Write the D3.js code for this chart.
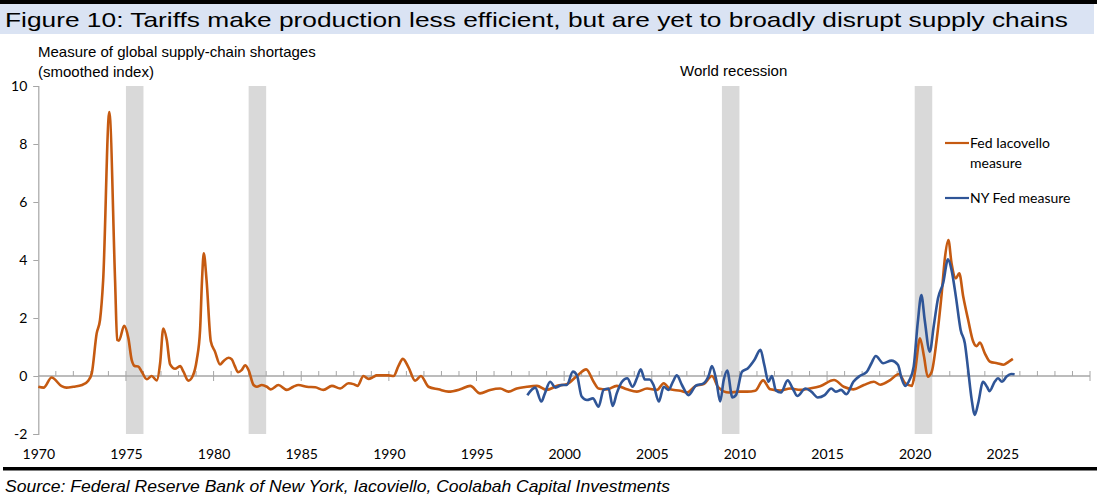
<!DOCTYPE html>
<html>
<head>
<meta charset="utf-8">
<script src="https://cdn.jsdelivr.net/npm/d3@7"></script>
<style>
  html, body { margin: 0; padding: 0; background: #fff; }
  svg { display: block; }
</style>
</head>
<body>
<svg id="chart" width="1097" height="497"></svg>
<script>
// ---------- DATA ----------
const titleText = "Figure 10: Tariffs make production less efficient, but are yet to broadly disrupt supply chains";
const sourceText = "Source: Federal Reserve Bank of New York, Iacoviello, Coolabah Capital Investments";
const yLabelLines = ["Measure of global supply-chain shortages", "(smoothed index)"];
const recessionLabel = "World recession";

const xTickYears = [1970, 1975, 1980, 1985, 1990, 1995, 2000, 2005, 2010, 2015, 2020, 2025];
const yTicks = [-2, 0, 2, 4, 6, 8, 10];

const recessionStart = [1975, 1982, 2009, 2020];
const recessionEnd   = [1976, 1983, 2010, 2021];

const seriesNames = ["Fed Iacovello measure", "NY Fed measure"];

const iacYears = [1970.0,1970.3,1970.76,1971.33,1971.6,1972.0,1972.5,1972.85,1973.05,1973.33,1973.52,1973.7,1974.05,1974.38,1974.5,1974.6,1974.9,1975.14,1975.33,1975.52,1975.7,1975.9,1976.19,1976.47,1976.76,1976.95,1977.13,1977.33,1977.52,1977.8,1978.09,1978.28,1978.56,1978.81,1979.04,1979.23,1979.34,1979.44,1979.6,1979.84,1980.08,1980.37,1980.56,1980.85,1981.04,1981.2,1981.4,1981.6,1981.8,1982.0,1982.28,1982.47,1982.75,1983.04,1983.26,1983.7,1984.18,1984.55,1984.84,1985.32,1985.8,1986.27,1986.75,1987.22,1987.7,1987.98,1988.21,1988.55,1988.84,1989.1,1989.3,1989.98,1990.27,1990.55,1990.8,1991.12,1991.5,1991.83,1992.26,1992.83,1993.4,1994.07,1994.64,1995.2,1995.78,1996.35,1996.83,1997.3,1997.88,1998.45,1999.0,1999.6,2000.15,2000.73,2001.26,2001.68,2001.96,2002.44,2003.0,2003.58,2004.15,2004.73,2005.3,2005.68,2006.05,2006.63,2007.0,2007.5,2007.96,2008.43,2008.8,2009.4,2009.97,2010.44,2010.9,2011.35,2011.76,2012.33,2012.9,2013.47,2014.0,2014.6,2015.4,2015.95,2016.5,2017.1,2017.67,2018.04,2018.6,2019.1,2019.46,2019.84,2020.03,2020.3,2020.53,2020.74,2020.97,2021.25,2021.54,2021.73,2021.92,2022.1,2022.35,2022.54,2022.77,2023.05,2023.34,2023.53,2023.72,2024.0,2024.3,2024.7,2025.06,2025.35,2025.6];
const iacValues = [-0.37,-0.4,-0.05,-0.35,-0.4,-0.37,-0.31,-0.16,0.09,1.47,1.93,3.3,9.1,3.3,1.24,1.22,1.73,1.3,0.55,0.34,0.33,0.15,-0.11,0.0,-0.15,0.44,1.64,1.24,0.4,0.25,0.34,0.15,-0.16,0.0,0.55,1.59,3.3,4.23,3.3,1.2,0.84,0.4,0.51,0.63,0.57,0.36,0.13,0.2,0.37,0.2,-0.31,-0.37,-0.31,-0.37,-0.46,-0.31,-0.48,-0.37,-0.31,-0.37,-0.39,-0.48,-0.34,-0.43,-0.25,-0.28,-0.34,0.0,-0.1,-0.04,0.02,0.02,0.0,0.35,0.59,0.3,-0.16,0.0,-0.37,-0.46,-0.54,-0.46,-0.34,-0.6,-0.48,-0.43,-0.54,-0.43,-0.37,-0.34,-0.48,-0.34,-0.28,0.0,0.23,-0.2,-0.43,-0.46,-0.34,-0.46,-0.54,-0.43,-0.48,-0.25,-0.46,-0.51,-0.57,-0.34,-0.28,0.0,-0.39,-0.57,-0.54,-0.54,-0.51,-0.15,-0.46,-0.5,-0.43,-0.48,-0.43,-0.35,-0.14,-0.37,-0.46,-0.31,-0.2,-0.3,-0.14,0.07,-0.25,-0.34,0.2,1.3,0.67,-0.02,0.15,1.24,2.85,4.11,4.69,3.89,3.37,3.54,2.73,1.93,1.18,1.03,1.15,0.78,0.49,0.44,0.39,0.49,0.59];

const nyYears = [1997.9,1998.35,1998.7,1998.9,1999.2,1999.5,1999.87,2000.15,2000.5,2000.73,2001.0,2001.3,2001.64,2001.96,2002.25,2002.53,2002.77,2003.0,2003.3,2003.6,2003.9,2004.15,2004.37,2004.6,2004.87,2005.1,2005.4,2005.68,2005.96,2006.2,2006.43,2006.72,2007.1,2007.5,2007.96,2008.25,2008.43,2008.68,2008.9,2009.1,2009.3,2009.6,2009.8,2010.15,2010.47,2010.85,2011.2,2011.42,2011.66,2011.85,2012.08,2012.37,2012.75,2013.04,2013.3,2013.77,2014.1,2014.47,2014.86,2015.24,2015.5,2015.8,2016.1,2016.5,2016.86,2017.25,2017.53,2017.78,2018.2,2018.67,2019.05,2019.24,2019.46,2019.7,2019.94,2020.17,2020.38,2020.57,2020.86,2021.08,2021.33,2021.62,2021.9,2022.1,2022.35,2022.62,2022.86,2023.05,2023.24,2023.43,2023.62,2023.9,2024.12,2024.27,2024.56,2024.75,2024.98,2025.24,2025.5,2025.7];
const nyValues = [-0.66,-0.4,-0.88,-0.6,-0.2,-0.4,-0.31,-0.31,0.15,0.02,-0.71,-0.83,-0.77,-1.06,-0.48,-0.43,-1.03,-0.6,-0.2,-0.08,-0.37,-0.08,0.23,-0.12,-0.12,-0.31,-0.88,-0.37,-0.48,-0.2,0.02,-0.31,-0.66,-0.34,-0.25,0.02,0.34,-0.15,-0.88,-0.15,0.19,-0.74,-0.66,0.15,0.26,0.55,0.9,0.38,-0.2,0.0,-0.5,-0.57,-0.15,-0.43,-0.69,-0.43,-0.54,-0.74,-0.66,-0.43,-0.54,-0.48,-0.63,-0.2,0.0,0.13,0.44,0.69,0.44,0.53,0.38,-0.06,-0.34,-0.14,0.32,1.82,2.79,1.93,0.84,1.7,2.68,3.2,4.02,3.66,2.73,1.59,1.13,0.2,-0.77,-1.34,-0.94,-0.2,-0.37,-0.52,-0.2,-0.08,-0.2,-0.02,0.07,0.06];

// ---------- LAYOUT ----------
const svg = d3.select("#chart");
const W = 1097, H = 497;
const plot = { left: 38.3, right: 1090, top: 86, bottom: 434 };
const orange = "#c55a11", blue = "#2f5597", grey = "#a6a6a6", bandGrey = "#d9d9d9";
const bodyFont = "Lato, 'Open Sans', sans-serif";
const narrowFont = "'Liberation Sans Narrow', 'Liberation Sans', sans-serif";

const x = d3.scaleLinear().domain([1970, 2030]).range([plot.left, plot.right]);
const y = d3.scaleLinear().domain([-2, 10]).range([plot.bottom, plot.top]);

// Title band
svg.append("rect").attr("x", 0).attr("y", 0).attr("width", W).attr("height", 4).attr("fill", "#000");
svg.append("rect").attr("x", 0).attr("y", 4).attr("width", 1094).attr("height", 30).attr("fill", "#dae3f3");
svg.append("text").attr("x", 5).attr("y", 27)
  .attr("font-family", narrowFont).attr("font-size", 21).attr("fill", "#000")
  .attr("textLength", 1063).attr("lengthAdjust", "spacingAndGlyphs")
  .text(titleText);

// Recession bands
const recIdx = d3.range(recessionStart.length);
svg.append("g").selectAll("rect").data(recIdx).join("rect")
  .attr("x", i => x(recessionStart[i]))
  .attr("width", i => x(recessionEnd[i]) - x(recessionStart[i]))
  .attr("y", y(10)).attr("height", y(-2) - y(10))
  .attr("fill", bandGrey);

// Y axis
const yAxis = d3.axisLeft(y).tickValues(yTicks).tickFormat(d => String(d)).tickSize(5).tickPadding(6);
const gy = svg.append("g").attr("transform", `translate(${plot.left},0)`).call(yAxis);
gy.select(".domain").attr("stroke", grey).attr("stroke-width", 1.2);
gy.selectAll(".tick line").attr("stroke", grey);
gy.selectAll(".tick text").attr("font-family", bodyFont).attr("font-size", 14).attr("fill", "#000");

// Zero line with year ticks
svg.append("line").attr("x1", plot.left).attr("x2", plot.right)
  .attr("y1", y(0)).attr("y2", y(0)).attr("stroke", grey).attr("stroke-width", 1.5);
const minorYears = d3.range(1971, 2031).filter(v => v % 5 !== 0);
svg.append("g").selectAll("line").data(minorYears).join("line")
  .attr("x1", d => x(d)).attr("x2", d => x(d))
  .attr("y1", y(0)).attr("y2", y(0) - 5)
  .attr("stroke", grey).attr("stroke-width", 1);
const majorYears = d3.range(1975, 2031, 5);
svg.append("g").selectAll("line").data(majorYears).join("line")
  .attr("x1", d => x(d)).attr("x2", d => x(d))
  .attr("y1", y(0) - 5).attr("y2", y(0) + 5)
  .attr("stroke", grey).attr("stroke-width", 1);

// X tick labels at bottom via axis (no domain/ticks)
const xAxis = d3.axisBottom(x).tickValues(xTickYears).tickFormat(d => String(d)).tickSize(0).tickPadding(15);
const gx = svg.append("g").attr("transform", `translate(0,${plot.bottom})`).call(xAxis);
gx.select(".domain").remove();
gx.selectAll(".tick text").attr("font-family", bodyFont).attr("font-size", 14).attr("fill", "#000");

// Lines
const line = d3.line().x(d => x(d[0])).y(d => y(d[1])).curve(d3.curveMonotoneX);
const iacData = iacYears.map((v, i) => [v, iacValues[i]]);
const nyData = nyYears.map((v, i) => [v, nyValues[i]]);
svg.append("path").datum(iacData).attr("d", line)
  .attr("fill", "none").attr("stroke", orange).attr("stroke-width", 2.6).attr("stroke-linejoin", "round");
svg.append("path").datum(nyData).attr("d", line)
  .attr("fill", "none").attr("stroke", blue).attr("stroke-width", 2.6).attr("stroke-linejoin", "round");

// Y label
svg.append("text").attr("x", 38).attr("y", 57)
  .attr("font-family", narrowFont).attr("font-size", 15).attr("fill", "#000")
  .text(yLabelLines[0]);
svg.append("text").attr("x", 38).attr("y", 77)
  .attr("font-family", narrowFont).attr("font-size", 15).attr("fill", "#000")
  .text(yLabelLines[1]);

// Recession label
svg.append("text").attr("x", 680).attr("y", 76)
  .attr("font-family", narrowFont).attr("font-size", 15).attr("fill", "#000")
  .text(recessionLabel);

// Legend
const legend = svg.append("g");
legend.append("line").attr("x1", 945).attr("x2", 969).attr("y1", 143).attr("y2", 143)
  .attr("stroke", orange).attr("stroke-width", 2.2);
legend.append("text").attr("x", 970).attr("y", 148)
  .attr("font-family", bodyFont).attr("font-size", 14).text("Fed Iacovello");
legend.append("text").attr("x", 970).attr("y", 168)
  .attr("font-family", bodyFont).attr("font-size", 14).text("measure");
legend.append("line").attr("x1", 945).attr("x2", 969).attr("y1", 198).attr("y2", 198)
  .attr("stroke", blue).attr("stroke-width", 2.2);
legend.append("text").attr("x", 970).attr("y", 203)
  .attr("font-family", bodyFont).attr("font-size", 14).text(seriesNames[1]);

// Bottom rule and source
svg.append("rect").attr("x", 3).attr("y", 467).attr("width", 1094).attr("height", 3.5).attr("fill", "#000");
svg.append("text").attr("x", 5).attr("y", 492)
  .attr("font-family", narrowFont).attr("font-style", "italic").attr("font-size", 17).attr("fill", "#000")
  .attr("textLength", 665).attr("lengthAdjust", "spacingAndGlyphs")
  .text(sourceText);
</script>
</body>
</html>
